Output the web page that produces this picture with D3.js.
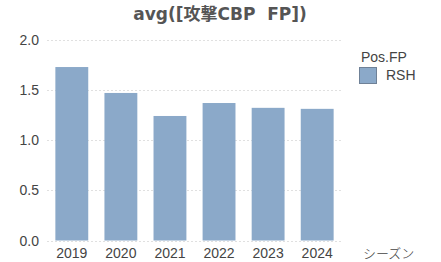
<!DOCTYPE html>
<html>
<head>
<meta charset="utf-8">
<script src="https://cdn.jsdelivr.net/npm/d3@7"></script>
<style>
  body { margin: 0; background: #fff; }
  svg { display: block; font-family: "Liberation Sans", Arial, sans-serif; }
</style>
</head>
<body>
<svg id="chart"></svg>
<script>
const seasons = ['2019', '2020', '2021', '2022', '2023', '2024'];
const values = [1.726, 1.468, 1.239, 1.368, 1.32, 1.31];
const yTicks = [0, 0.5, 1.0, 1.5, 2.0];

const width = 441;
const height = 262;
const barColor = '#8ba9c9';

const svg = d3.select('svg#chart')
    .attr('width', width)
    .attr('height', height);

const x = d3.scaleBand()
    .domain(seasons)
    .range([48, 341])
    .paddingInner(0.33)
    .paddingOuter(0.15);

const y = d3.scaleLinear()
    .domain([0, 2])
    .range([240.5, 39.5]);

// grid
svg.append('g')
    .selectAll('line')
    .data(yTicks)
    .join('line')
    .attr('x1', 47)
    .attr('x2', 342)
    .attr('y1', d => Math.round(y(d)) + 0.5)
    .attr('y2', d => Math.round(y(d)) + 0.5)
    .attr('stroke', '#e0e0e0')
    .attr('stroke-dasharray', '2,2');

// y labels
svg.append('g')
    .selectAll('text')
    .data(yTicks)
    .join('text')
    .attr('x', 39)
    .attr('y', d => y(d) + 5)
    .attr('text-anchor', 'end')
    .attr('font-size', 14)
    .attr('fill', '#444')
    .text(d => d.toFixed(1));

// bars
svg.append('g')
    .selectAll('rect')
    .data(values)
    .join('rect')
    .attr('x', (d, i) => x(seasons[i]))
    .attr('y', d => y(d))
    .attr('width', x.bandwidth())
    .attr('height', d => y(0) - y(d))
    .attr('fill', barColor);

// x labels
svg.append('g')
    .selectAll('text')
    .data(seasons)
    .join('text')
    .attr('x', d => x(d) + x.bandwidth() / 2)
    .attr('y', 258)
    .attr('text-anchor', 'middle')
    .attr('font-size', 14)
    .attr('fill', '#444')
    .text(d => d);

svg.append('text')
    .attr('x', 363)
    .attr('y', 258)
    .attr('font-size', 13)
    .attr('fill', '#444')
    .attr('font-family', '"Noto Sans CJK JP", sans-serif')
    .attr('font-weight', 300)
    .text('シーズン');

// title
svg.append('text')
    .attr('x', 220)
    .attr('y', 20)
    .attr('text-anchor', 'middle')
    .attr('font-size', 17)
    .attr('font-weight', 'bold')
    .attr('fill', '#555')
    .attr('font-family', '"DejaVu Sans", "Noto Sans CJK JP", sans-serif')
    .style('white-space', 'pre')
    .text('avg([攻撃CBP  FP])');

// legend
svg.append('text')
    .attr('x', 361)
    .attr('y', 62)
    .attr('font-size', 14)
    .attr('fill', '#444')
    .text('Pos.FP');

svg.append('rect')
    .attr('x', 359.5)
    .attr('y', 67.5)
    .attr('width', 17)
    .attr('height', 16)
    .attr('fill', barColor)
    .attr('stroke', '#6f8197');

svg.append('text')
    .attr('x', 386)
    .attr('y', 80)
    .attr('font-size', 14)
    .attr('fill', '#444')
    .text('RSH');
</script>
</body>
</html>
